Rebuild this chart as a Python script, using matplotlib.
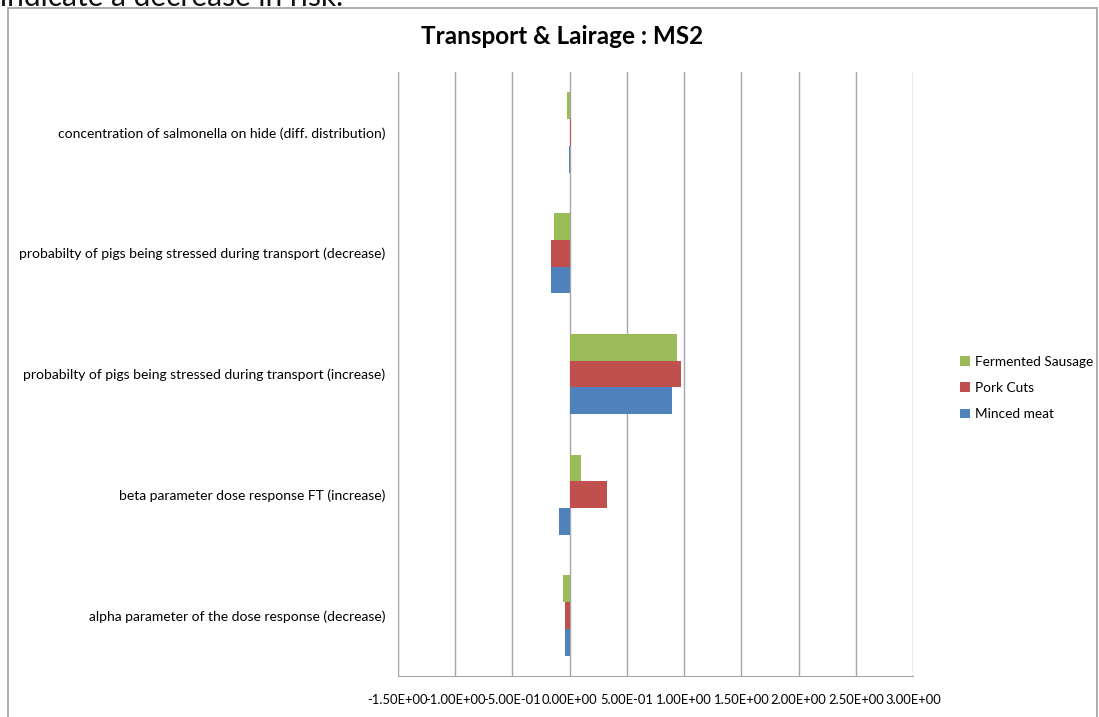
import matplotlib
matplotlib.use("Agg")
import matplotlib.pyplot as plt
from matplotlib.patches import Rectangle
from matplotlib.ticker import FuncFormatter, MultipleLocator
import numpy as np

plt.rcParams['font.family'] = ['Lato', 'DejaVu Sans']

# Parameters, listed bottom to top as they appear on the vertical axis
categories = [
    "alpha parameter of the dose response (decrease)",
    "beta parameter dose response FT (increase)",
    "probabilty of pigs being stressed during transport (increase)",
    "probabilty of pigs being stressed during transport (decrease)",
    "concentration of salmonella on hide (diff. distribution)",
]
series_names = ["Minced meat", "Pork Cuts", "Fermented Sausage"]
minced_meat = [-0.044, -0.096, 0.89, -0.167, -0.006]
pork_cuts = [-0.038, 0.33, 0.975, -0.167, 0.010]
fermented_sausage = [-0.059, 0.096, 0.935, -0.137, -0.020]
colors = ["#4F81BD", "#C0504D", "#9BBB59"]

fig = plt.figure(figsize=(10.99, 7.17), dpi=100)
W, H = 1099, 717

# outer chart frame
fig.patches.append(Rectangle((8 / W, -0.05), (1097 - 8) / W, 1.05 - 8 / H,
                             transform=fig.transFigure, fill=False,
                             edgecolor="#A0A0A0", linewidth=1.2))
# trailing line of the surrounding document text
fig.text(0.0, 1 - 6 / H, "indicate a decrease in risk.", fontsize=21.5,
         ha="left", va="baseline", color="#111111")

ax = fig.add_axes([398 / W, 1 - 676 / H, (913 - 398) / W, (676 - 72) / H])

n = len(categories)
y = np.arange(n)
bh = 1 / 4.5
for k, (vals, name, col) in enumerate(zip([minced_meat, pork_cuts, fermented_sausage],
                                          series_names, colors)):
    ax.barh(y + (k - 1) * bh, vals, height=bh, color=col, label=name, zorder=3)

ax.set_xlim(-1.5, 3.0)
ax.set_ylim(-0.5, n - 0.5)
ax.xaxis.set_major_locator(MultipleLocator(0.5))
ax.xaxis.set_major_formatter(FuncFormatter(lambda v, p: f"{v:.2E}"))
ax.grid(axis="x", color="#A6A6A6", linewidth=1.0, zorder=0)
ax.set_yticks(y)
ax.set_yticklabels(categories, fontsize=10)
ax.tick_params(axis="both", length=0, colors="#000000")
ax.tick_params(axis="x", labelsize=9.4, pad=13)
ax.tick_params(axis="y", pad=9)
for side in ["top", "right"]:
    ax.spines[side].set_visible(False)
for side in ["left", "bottom"]:
    ax.spines[side].set_color("#A6A6A6")

fig.text(562 / W, 1 - 37 / H, "Transport & Lairage : MS2", fontsize=17.5,
         fontweight="bold", ha="center", va="center")

handles, labels = ax.get_legend_handles_labels()
fig.legend(handles[::-1], labels[::-1], loc="center left",
           bbox_to_anchor=(948 / W, 1 - 388 / H), frameon=False, fontsize=9.8,
           handlelength=0.7, handleheight=0.7, handletextpad=0.4,
           labelspacing=1.05)

fig.savefig("out.png", dpi=100)
